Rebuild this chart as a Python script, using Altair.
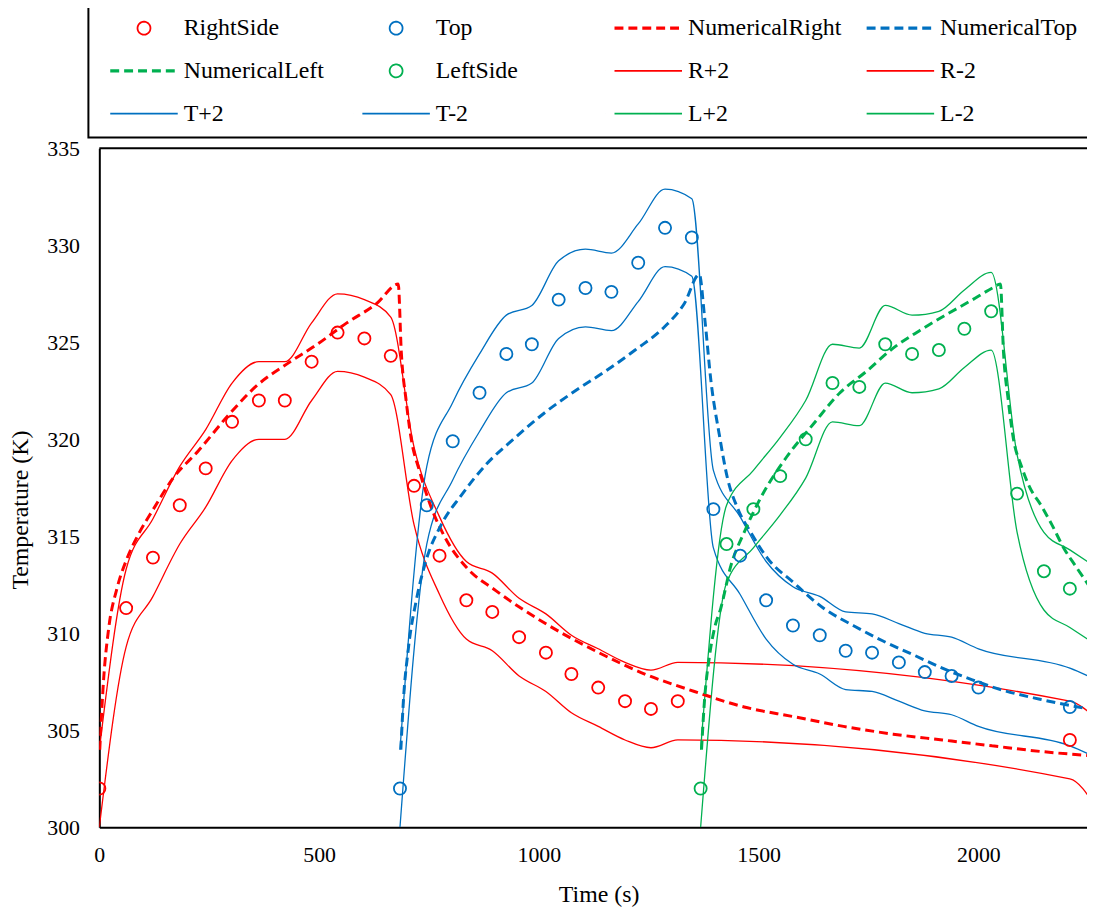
import altair as alt
import pandas as pd

FONT = "Liberation Serif"

# ---------------- data ----------------
series_order = ["RightSide", "Top", "NumericalRight", "NumericalTop",
                "NumericalLeft", "LeftSide", "R+2", "R-2",
                "T+2", "T-2", "L+2", "L-2"]
series_colors = ["#FF0000", "#0070C0", "#FF0000", "#0070C0",
                 "#00B050", "#00B050", "#FF0000", "#FF0000",
                 "#0070C0", "#0070C0", "#00B050", "#00B050"]

# experimental points
right_t = [0, 61, 122, 183, 242, 302, 363, 422, 483, 542, 603, 663, 716, 774,
           835, 894, 955, 1016, 1074, 1135, 1196, 1255, 1316, 2208]
right_T = [302.0, 311.3, 313.9, 316.6, 318.5, 320.9, 322.0, 322.0, 324.0, 325.5,
           325.2, 324.3, 317.6, 314.0, 311.7, 311.1, 309.8, 309.0, 307.9, 307.2,
           306.5, 306.1, 306.5, 304.5]
top_t = [684, 745, 804, 865, 926, 984, 1045, 1106, 1165, 1226, 1287, 1348, 1397,
         1458, 1517, 1578, 1639, 1698, 1758, 1819, 1878, 1939, 2000, 2208]
top_T = [302.0, 316.6, 319.9, 322.4, 324.4, 324.9, 327.2, 327.8, 327.6, 329.1,
         330.9, 330.4, 316.4, 314.0, 311.7, 310.4, 309.9, 309.1, 309.0, 308.5,
         308.0, 307.8, 307.2, 306.2]
left_t = [1368, 1427, 1488, 1549, 1607, 1668, 1729, 1788, 1849, 1910, 1968, 2029,
          2088, 2149, 2208]
left_T = [302.0, 314.6, 316.4, 318.1, 320.0, 322.9, 322.7, 324.9, 324.4, 324.6,
          325.7, 326.6, 317.2, 313.2, 312.3]

# numerical curves
num_right_t = [1, 10, 21, 40, 62, 89, 123, 168, 225, 292, 360, 428, 496, 563, 631,
               680, 687, 698, 709, 728, 750, 785, 835, 902, 1015, 1128, 1241, 1354,
               1467, 1580, 1693, 1806, 1918, 2031, 2145, 2250]
num_right_T = [304.0, 307.7, 310.2, 312.3, 313.8, 315.1, 316.4, 318.0, 319.4, 321.2,
               322.8, 323.9, 324.9, 326.0, 327.0, 328.0, 324.5, 322.0, 320.1, 318.4,
               316.8, 315.0, 313.4, 312.2, 310.5, 309.1, 307.9, 307.0, 306.2, 305.7,
               305.2, 304.8, 304.5, 304.2, 303.9, 303.7]
num_top_t = [686, 692, 703, 722, 744, 778, 823, 880, 947, 1015, 1083, 1151, 1219,
             1286, 1331, 1365, 1377, 1392, 1410, 1429, 1451, 1482, 1519, 1580, 1647,
             1715, 1783, 1851, 1918, 1986, 2050, 2140, 2250]
num_top_T = [304.0, 306.6, 309.2, 311.8, 313.8, 315.6, 317.1, 318.7, 320.1, 321.4,
             322.5, 323.5, 324.6, 325.8, 327.0, 328.5, 326.3, 322.9, 320.3, 318.0,
             316.5, 315.2, 313.9, 312.6, 311.3, 310.4, 309.6, 308.9, 308.2, 307.6,
             307.1, 306.6, 306.1]
num_left_t = [1370, 1377, 1388, 1400, 1414, 1437, 1467, 1505, 1564, 1625, 1685, 1745,
              1806, 1866, 1925, 1987, 2032, 2050, 2057, 2068, 2079, 2098, 2113, 2145,
              2167, 2194, 2223, 2250]
num_left_T = [304.0, 306.6, 308.8, 310.3, 311.3, 313.5, 315.2, 317.0, 319.1, 320.8,
              322.4, 323.5, 324.7, 325.6, 326.4, 327.2, 327.8, 328.0, 324.5, 322.0,
              320.1, 318.6, 317.7, 316.5, 315.6, 314.4, 313.4, 312.5]

# +/- 2 K bands
r_band_t = [0, 61, 122, 183, 242, 302, 363, 422, 483, 542, 603, 663, 716, 774, 835,
            894, 955, 1016, 1074, 1135, 1196, 1255, 1316, 2208, 2268]
r_plus_T = [304.0, 313.3, 315.9, 318.6, 320.5, 322.9, 324.0, 324.0, 326.0, 327.5,
            327.2, 326.3, 319.6, 316.0, 313.7, 313.1, 311.8, 311.0, 309.9, 309.2,
            308.5, 308.1, 308.5, 306.5, 305.6]
r_minus_T = [300.0, 309.3, 311.9, 314.6, 316.5, 318.9, 320.0, 320.0, 322.0, 323.5,
             323.2, 322.3, 315.6, 312.0, 309.7, 309.1, 307.8, 307.0, 305.9, 305.2,
             304.5, 304.1, 304.5, 302.5, 301.0]
t_band_t = [684, 745, 804, 865, 926, 984, 1045, 1106, 1165, 1226, 1287, 1348, 1397,
            1458, 1517, 1578, 1639, 1698, 1758, 1819, 1878, 1939, 2000, 2208, 2268]
t_plus_T = [304.0, 318.6, 321.9, 324.4, 326.4, 326.9, 329.2, 329.8, 329.6, 331.1,
            332.9, 332.4, 318.4, 316.0, 313.7, 312.4, 311.9, 311.1, 311.0, 310.5,
            310.0, 309.8, 309.2, 308.2, 307.6]
t_minus_T = [300.0, 314.6, 317.9, 320.4, 322.4, 322.9, 325.2, 325.8, 325.6, 327.1,
             328.9, 328.4, 314.4, 312.0, 309.7, 308.4, 307.9, 307.1, 307.0, 306.5,
             306.0, 305.8, 305.2, 304.2, 303.6]
l_band_t = [1368, 1427, 1488, 1549, 1607, 1668, 1729, 1788, 1849, 1910, 1968, 2029,
            2088, 2149, 2208, 2268]
l_plus_T = [304.0, 316.6, 318.4, 320.1, 322.0, 324.9, 324.7, 326.9, 326.4, 326.6,
            327.7, 328.6, 319.2, 315.2, 314.3, 313.4]
l_minus_T = [300.0, 312.6, 314.4, 316.1, 318.0, 320.9, 320.7, 322.9, 322.4, 322.6,
             323.7, 324.6, 315.2, 311.2, 310.3, 309.4]

x_ticks = [0, 500, 1000, 1500, 2000]
y_ticks = [300, 305, 310, 315, 320, 325, 330, 335]


def frame(name, ts, vs):
    return pd.DataFrame({"t": ts, "T": vs, "series": name})


exp_df = pd.concat([frame("RightSide", right_t, right_T),
                    frame("Top", top_t, top_T),
                    frame("LeftSide", left_t, left_T)])
num_df = pd.concat([frame("NumericalRight", num_right_t, num_right_T),
                    frame("NumericalTop", num_top_t, num_top_T),
                    frame("NumericalLeft", num_left_t, num_left_T)])
band_df = pd.concat([frame("R+2", r_band_t, r_plus_T),
                     frame("R-2", r_band_t, r_minus_T),
                     frame("T+2", t_band_t, t_plus_T),
                     frame("T-2", t_band_t, t_minus_T),
                     frame("L+2", l_band_t, l_plus_T),
                     frame("L-2", l_band_t, l_minus_T)])
top_df = pd.DataFrame({"T": [335]})

# ---------------- legend symbol styles ----------------
# legend symbol paths at symbol size 576: one path unit = 12 px.
# A 68 px line drawn right of the entry origin, circle at the line centre.
ANCHOR = "M-1,0L-0.999,0"
CIRC_PATH = ANCHOR + ("M3.125,0A0.542,0.542,0,1,1,2.041,0"
                      "A0.542,0.542,0,1,1,3.125,0")
SOLID_PATH = ANCHOR + "M-0.25,0L5.417,0"
THICK_PATH = ANCHOR + "M-0.25,-0.058L5.417,-0.058M-0.25,0.058L5.417,0.058"
kind = {"RightSide": "c", "Top": "c", "LeftSide": "c",
        "NumericalRight": "d", "NumericalTop": "d", "NumericalLeft": "d"}
shape_range = [CIRC_PATH if kind.get(s) == "c" else
               (THICK_PATH if kind.get(s) == "d" else SOLID_PATH)
               for s in series_order]
dash_range = [[9, 5] if kind.get(s) == "d" else [1, 0] for s in series_order]

# ---------------- encodings ----------------
x_enc = alt.X("t:Q",
              scale=alt.Scale(domain=[0, 2247], nice=False, zero=False),
              axis=alt.Axis(values=x_ticks, title="Time (s)", format="d",
                            labelFlush=False, labelPadding=17, titlePadding=18,
                            titleX=503))
y_enc = alt.Y("T:Q",
              scale=alt.Scale(domain=[300, 335], nice=False, zero=False),
              axis=alt.Axis(values=y_ticks, title="Temperature (K)",
                            labelPadding=20, titlePadding=14, titleY=364))
color_scale = alt.Scale(domain=series_order, range=series_colors)
shape_scale = alt.Scale(domain=series_order, range=shape_range)
dash_scale = alt.Scale(domain=series_order, range=dash_range)

legend = alt.Legend(
    title=None, orient="none", legendX=-11, legendY=-146,
    direction="horizontal", columns=4, gridAlign="all",
    columnPadding=12, rowPadding=18, padding=12,
    strokeColor="black", symbolSize=576, symbolStrokeWidth=1.8,
    symbolOpacity=1, labelOffset=58,
    labelFont=FONT, labelFontSize=24, labelColor="black", labelLimit=400,
)

bands = alt.Chart(band_df).mark_line(
    strokeWidth=1.3, interpolate="monotone", clip=True
).encode(
    x=x_enc, y=y_enc,
    color=alt.Color("series:N", scale=color_scale, legend=None),
    detail="series:N",
)

nums = alt.Chart(num_df).mark_line(
    strokeWidth=3, strokeDash=[9, 5], interpolate="monotone", clip=True
).encode(
    x=x_enc, y=y_enc,
    color=alt.Color("series:N", scale=color_scale, legend=None),
    detail="series:N",
)

pts = alt.Chart(exp_df).mark_point(
    shape="circle", size=150, filled=False, strokeWidth=1.8, opacity=1, clip=True
).encode(
    x=x_enc, y=y_enc,
    color=alt.Color("series:N", scale=color_scale, legend=None),
)

# invisible layer that only carries the combined legend
legend_layer = alt.Chart(exp_df).mark_point(
    size=576, filled=False, opacity=0, clip=True
).encode(
    x=x_enc, y=y_enc,
    color=alt.Color("series:N", scale=color_scale, legend=legend),
    shape=alt.Shape("series:N", scale=shape_scale, legend=legend),
    strokeDash=alt.StrokeDash("series:N", scale=dash_scale, legend=legend),
)

top_border = alt.Chart(top_df).mark_rule(color="black", strokeWidth=2).encode(
    y=y_enc
)

chart = alt.layer(bands, nums, pts, legend_layer, top_border).resolve_scale(
    color="independent", shape="independent", strokeDash="independent"
).properties(
    width=995, height=684,
    padding={"left": 92, "top": 138, "right": 0, "bottom": 80},
    autosize=alt.AutoSizeParams(type="none"),
).configure_view(
    stroke="transparent"
).configure_axis(
    labelFont=FONT, titleFont=FONT, labelFontSize=22, titleFontSize=24,
    titleFontWeight="normal", labelColor="black", titleColor="black",
    domainColor="black", domainWidth=2, ticks=False, grid=False,
).configure_legend(
    strokeWidth=2
)

chart.save("out.html", embed_options={"renderer": "svg", "actions": False})
